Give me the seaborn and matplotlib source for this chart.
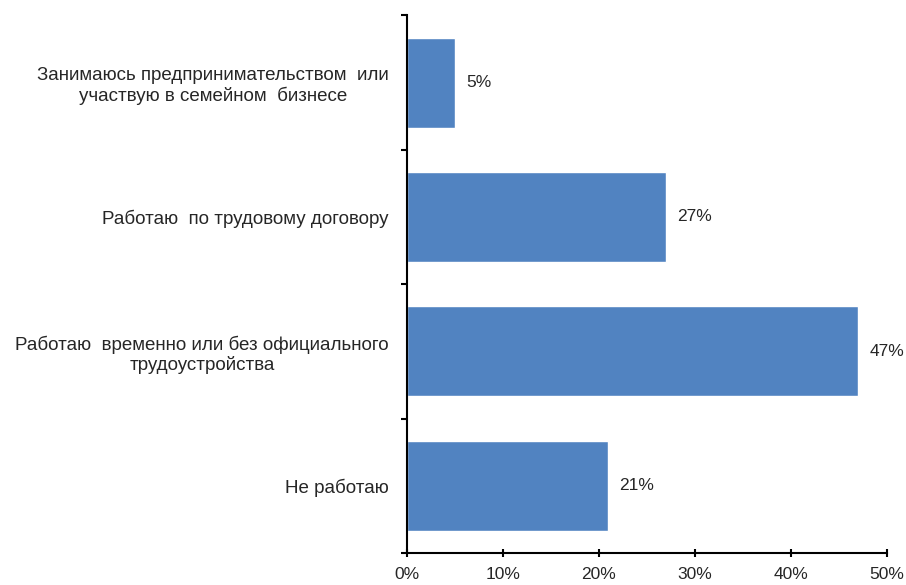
import pandas as pd
import matplotlib.pyplot as plt
import seaborn as sns
from matplotlib.ticker import FixedLocator, PercentFormatter

# Data
categories = [
    'Занимаюсь предпринимательством  или\nучаствую в семейном  бизнесе',
    'Работаю  по трудовому договору',
    'Работаю  временно или без официального\nтрудоустройства',
    'Не работаю',
]
shares = [5, 27, 47, 21]
value_labels = ['5%', '27%', '47%', '21%']
x_ticks = [0, 10, 20, 30, 40, 50]

BAR_COLOR = '#5183C1'
TEXT_COLOR = '#262626'
FS = 13.5
FS_NUM = 12.5

sns.set_style('white')
plt.rcParams['font.family'] = ['Liberation Sans', 'DejaVu Sans']

df = pd.DataFrame({'category': categories, 'share': shares})

fig = plt.figure(figsize=(9.06, 5.85), dpi=100)
ax = fig.add_axes([0.449, 0.0547, 0.530, 0.919])

sns.barplot(data=df, y='category', x='share', orient='h', color=BAR_COLOR,
            width=0.67, saturation=1, ax=ax)

ax.set_xlim(0, 50)
ax.set_ylim(3.5, -0.5)
ax.set_xlabel('')
ax.set_ylabel('')

# value labels
ax.bar_label(ax.containers[0], labels=value_labels, padding=8,
             fontsize=FS_NUM, color=TEXT_COLOR)

# axes styling
for side in ['top', 'right']:
    ax.spines[side].set_visible(False)
for side in ['left', 'bottom']:
    ax.spines[side].set_color('black')
    ax.spines[side].set_linewidth(1.5)

ax.xaxis.set_major_locator(FixedLocator(x_ticks))
ax.xaxis.set_major_formatter(PercentFormatter(decimals=0))
ax.tick_params(axis='x', bottom=True, direction='inout', length=6, width=1.5,
               color='black', labelsize=FS_NUM, labelcolor=TEXT_COLOR, pad=7)

ax.set_yticks([0, 1, 2, 3])
ax.set_yticklabels(categories)
ax.yaxis.set_minor_locator(FixedLocator([-0.5, 0.5, 1.5, 2.5, 3.5]))
ax.tick_params(axis='y', which='major', left=False, length=0, labelsize=FS,
               labelcolor=TEXT_COLOR, pad=13)
ax.tick_params(axis='y', which='minor', left=True, direction='out', length=4,
               width=1.5, color='black')
for lbl in ax.get_yticklabels():
    lbl.set_multialignment('center')

fig.savefig('out.png', dpi=100)
